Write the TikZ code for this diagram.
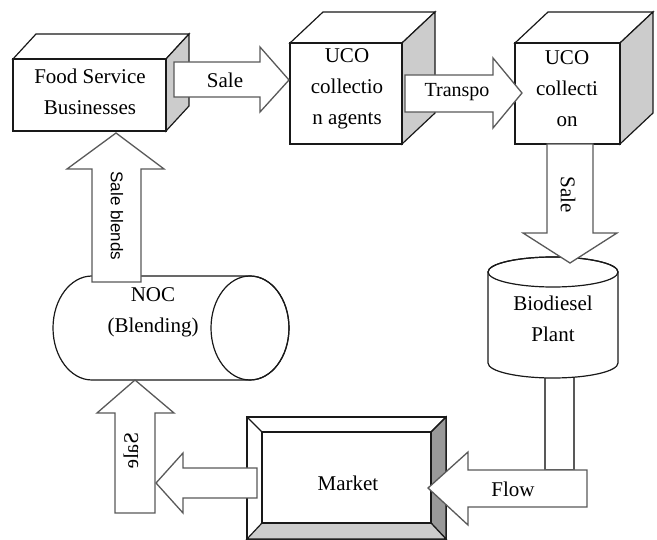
\documentclass[tikz,border=0pt]{standalone}
\usepackage{fontspec}
\usepackage{graphicx}
\setmainfont{Liberation Serif}
\newfontfamily\labelsans{Liberation Sans}
\definecolor{sidegray}{gray}{0.80}
\definecolor{darkbevel}{gray}{0.60}
\definecolor{linegray}{gray}{0.35}
\begin{document}
\begin{tikzpicture}[x=1pt,y=-1pt,
  outline/.style={draw=black!90, line width=1.2pt, line join=miter},
  blockarrow/.style={draw=linegray, fill=white, line width=1.3pt, line join=miter},
  lbl/.style={font=\fontsize{21}{31}\selectfont, align=center, inner sep=0pt},
  vlbl/.style={lbl, rotate=-90},
  sanslbl/.style={font=\labelsans\fontsize{17}{20}\selectfont, inner sep=0pt, rotate=-90}]
\useasboundingbox (0,0) rectangle (657,540);

% ---- Food Service Businesses (cube) ----
\draw[outline, fill=white] (13,59) -- (36,34) -- (189,34) -- (166,59) -- cycle;
\draw[outline, fill=sidegray] (166,59) -- (189,34) -- (189,106) -- (166,131) -- cycle;
\draw[outline, fill=white] (13,59) rectangle (166,131);
\node[lbl] (food) at (90,92) {Food Service\\Businesses};

% ---- UCO collection agents (cube) ----
\draw[outline, fill=white] (290,43) -- (323,12) -- (435,12) -- (402,43) -- cycle;
\draw[outline, fill=sidegray] (402,43) -- (435,12) -- (435,113) -- (402,144) -- cycle;
\draw[outline, fill=white] (290,43) rectangle (402,144);
\node[lbl] (agents) at (347,89) {UCO\\collectio\\n agents};

% ---- UCO collection (cube) ----
\draw[outline, fill=white] (515,43) -- (548,12) -- (653,12) -- (620,43) -- cycle;
\draw[outline, fill=sidegray] (620,43) -- (653,12) -- (653,113) -- (620,144) -- cycle;
\draw[outline, fill=white] (515,43) rectangle (620,144);
\node[lbl] (collection) at (567,89) {UCO\\collecti\\on};

% ---- Flow: vertical part below the plant ----
\draw[blockarrow] (545,372) rectangle (574,470);

% ---- Biodiesel Plant (vertical cylinder) ----
\draw[outline, fill=white] (488,272) -- (488,363)
  arc[start angle=180, end angle=0, x radius=65, y radius=15]
  -- (618,272) arc[start angle=0, end angle=-180, x radius=65, y radius=15] -- cycle;
\draw[outline] (553,272) ellipse[x radius=65, y radius=15];
\node[lbl] (plant) at (553,319) {Biodiesel\\Plant};

% ---- NOC (Blending) (horizontal cylinder) ----
\draw[outline, fill=white] (250,276) -- (92,276)
  arc[start angle=270, end angle=90, x radius=39, y radius=52]
  -- (250,380) arc[start angle=90, end angle=-90, x radius=39, y radius=52] -- cycle;
\draw[outline] (250,328) ellipse[x radius=39, y radius=52];
\node[lbl] (noc) at (153,312) {NOC\\(Blending)};

% ---- Market (bevelled frame) ----
\draw[outline, fill=white] (247,417) rectangle (446,539);
\draw[outline, fill=darkbevel] (446,417) -- (431,432) -- (431,523) -- (446,539) -- cycle;
\draw[outline, fill=sidegray] (247,539) -- (262,523) -- (431,523) -- (446,539) -- cycle;
\draw[outline] (247,417) -- (262,432) (446,417) -- (431,432);
\draw[outline, fill=white] (262,432) rectangle (431,523);
\node[lbl] (market) at (348,483) {Market};

% ---- block arrows ----
% Food Service -> agents
\draw[blockarrow] (174,62) -- (260,62) -- (260,47) -- (289,80) -- (260,112) -- (260,97) -- (174,97) -- cycle;
\node[lbl] (sale1) at (225,80) {Sale};
% agents -> collection
\draw[blockarrow] (405,75) -- (493,75) -- (493,58) -- (522,93) -- (493,128) -- (493,112) -- (405,112) -- cycle;
\node[lbl, font=\fontsize{20}{24}\selectfont] (transpo) at (457,92) {Transpo};
% collection -> plant
\draw[blockarrow] (547,144) -- (593,144) -- (593,233) -- (617,233) -- (570,263) -- (523,233) -- (547,233) -- cycle;
\node[vlbl] (sale2) at (568,195) {Sale};
% plant -> market
\draw[blockarrow] (428,488) -- (468,452) -- (468,470) -- (587,470) -- (587,507) -- (468,507) -- (468,525) -- cycle;
\node[lbl] (flow) at (513,489) {Flow};
% market -> sale arrow
\draw[blockarrow] (257,468) -- (257,498) -- (183,498) -- (183,513) -- (156,483) -- (183,453) -- (183,468) -- cycle;
% sale -> NOC
\draw[blockarrow] (115,513) -- (115,413) -- (97,413) -- (135,380) -- (174,413) -- (155,413) -- (155,513) -- cycle;
\node[vlbl] (sale3) at (131,451) {\scalebox{1}[-1]{Sale}};
% NOC -> Food Service
\draw[blockarrow] (92,282) -- (92,169) -- (67,169) -- (116,133) -- (164,169) -- (141,169) -- (141,282) -- cycle;
\node[sanslbl] (blends) at (117,216) {Sale blends};
\end{tikzpicture}
\end{document}
